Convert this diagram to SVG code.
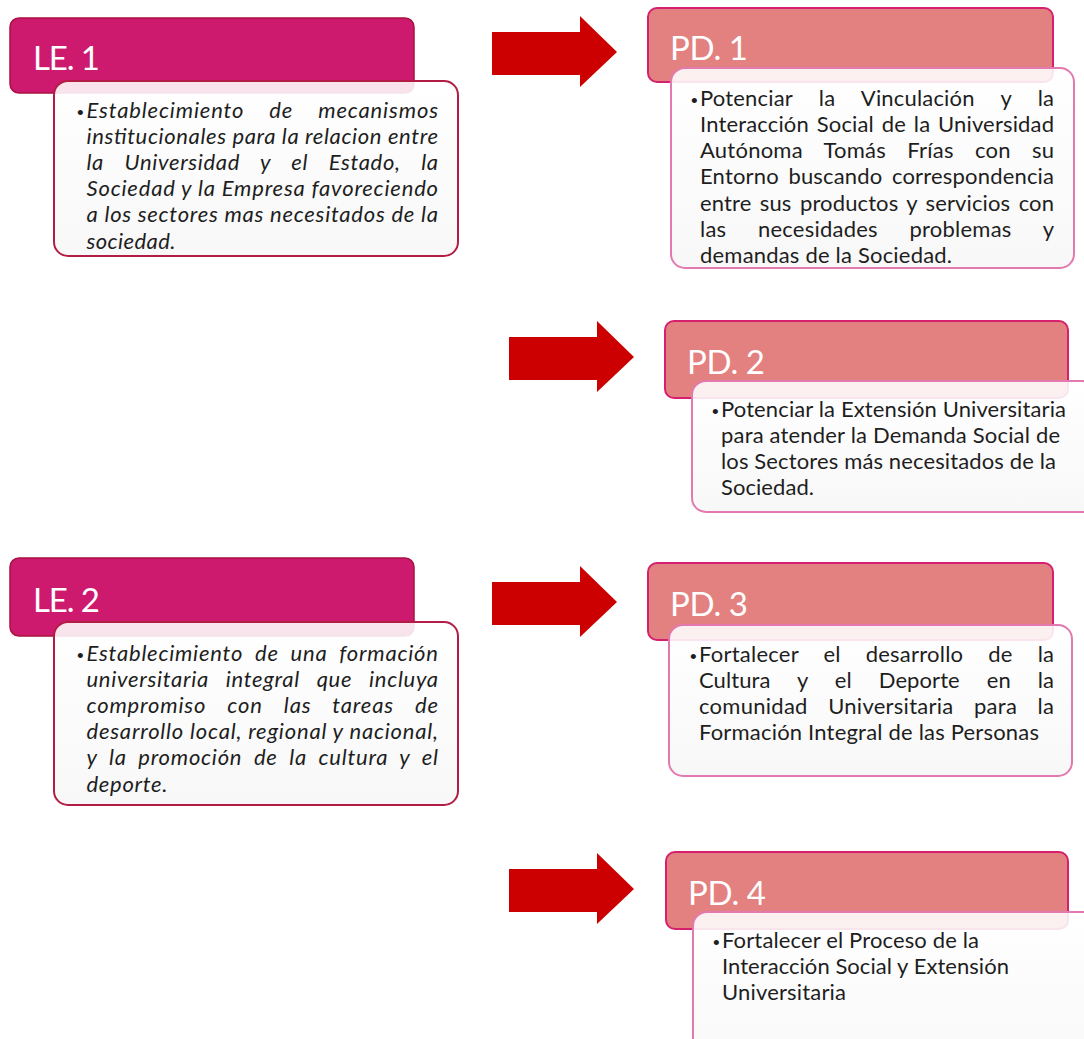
<svg xmlns="http://www.w3.org/2000/svg" width="1084" height="1039" viewBox="0 0 1084 1039">
<defs>
<linearGradient id="bodyg" x1="0" y1="0" x2="0" y2="1">
<stop offset="0" stop-color="#ffffff" stop-opacity="0.88"/>
<stop offset="1" stop-color="#f7f7f7" stop-opacity="0.92"/>
</linearGradient>
<style>
.leh{fill:#CD1A6E;stroke:#A8123F;stroke-width:1.5}
.leb{fill:url(#bodyg);stroke:#B31D45;stroke-width:2}
.pdh{fill:#E38080;stroke:#D4206E;stroke-width:2}
.pdb{fill:url(#bodyg);stroke:#E27AAF;stroke-width:2}
.arrow{fill:#CC0000}
.hd{font-family:Lato,"Liberation Sans",sans-serif;font-size:33px;fill:#ffffff}
.tx{font-family:Lato,"Liberation Sans",sans-serif;font-size:22px;fill:#1e1e1e}
.it{font-style:italic}
.bl{font-family:"Liberation Sans",sans-serif;font-size:19px;font-style:normal;fill:#1e1e1e}
</style>
</defs>
<rect width="1084" height="1039" fill="#ffffff"/>

<g id="connectors">
<path class="arrow" d="M492,32 L580,32 L580,16 L617,52 L580,87 L580,75 L492,75 Z"/>
<path class="arrow" d="M509,337 L597,337 L597,321 L634,357 L597,392 L597,380 L509,380 Z"/>
<path class="arrow" d="M492,582 L580,582 L580,566 L617,602 L580,637 L580,625 L492,625 Z"/>
<path class="arrow" d="M509,869 L597,869 L597,853 L634,889 L597,924 L597,912 L509,912 Z"/>
</g>

<g id="le1">
<rect class="leh" x="10" y="18" width="404" height="75" rx="9"/>
<text class="hd" x="33" y="69.5" textLength="67" lengthAdjust="spacing">LE. 1</text>
<rect class="leb" x="54" y="81" width="404" height="175" rx="14"/>
<text class="bl" x="77" y="119">•</text>
<g class="tx it">
<text x="86.5" y="117.5" textLength="351.5" lengthAdjust="spacing" word-spacing="19">Establecimiento de mecanismos</text>
<text x="86.5" y="143.7" textLength="351.5" lengthAdjust="spacing">institucionales para la relacion entre</text>
<text x="86.5" y="169.9" textLength="351.5" lengthAdjust="spacing" word-spacing="14.7">la Universidad y el Estado, la</text>
<text x="86.5" y="196.1" textLength="351.5" lengthAdjust="spacing">Sociedad y la Empresa favoreciendo</text>
<text x="86.5" y="222.3" textLength="351.5" lengthAdjust="spacing">a los sectores mas necesitados de la</text>
<text x="86.5" y="248.5" textLength="89" lengthAdjust="spacing">sociedad.</text>
</g>
</g>

<g id="pd1">
<rect class="pdh" x="648" y="8" width="405" height="74" rx="9"/>
<text class="hd" x="670" y="59.5" textLength="78" lengthAdjust="spacing">PD. 1</text>
<rect class="pdb" x="671" y="68" width="403" height="200" rx="14"/>
<text class="bl" x="691" y="107">•</text>
<g class="tx">
<text x="700" y="105.5" textLength="354" lengthAdjust="spacing" word-spacing="20.5">Potenciar la Vinculación y la</text>
<text x="700" y="131.8" textLength="354" lengthAdjust="spacing" word-spacing="2">Interacción Social de la Universidad</text>
<text x="700" y="158.1" textLength="354" lengthAdjust="spacing" word-spacing="15.4">Autónoma Tomás Frías con su</text>
<text x="700" y="184.4" textLength="354" lengthAdjust="spacing" word-spacing="3.7">Entorno buscando correspondencia</text>
<text x="700" y="210.7" textLength="354" lengthAdjust="spacing" word-spacing="2.7">entre sus productos y servicios con</text>
<text x="700" y="237" textLength="354" lengthAdjust="spacing" word-spacing="25.7">las necesidades problemas y</text>
<text x="700" y="263.3" textLength="252" lengthAdjust="spacing">demandas de la Sociedad.</text>
</g>
</g>

<g id="pd2">
<rect class="pdh" x="665" y="321" width="403" height="77" rx="9"/>
<text class="hd" x="687" y="373.5" textLength="78" lengthAdjust="spacing">PD. 2</text>
<rect class="pdb" x="692" y="381" width="404" height="131" rx="14"/>
<text class="bl" x="712" y="418">•</text>
<g class="tx">
<text x="721" y="416.5" textLength="345" lengthAdjust="spacing">Potenciar la Extensión Universitaria</text>
<text x="721" y="442.7" textLength="339" lengthAdjust="spacing">para atender la Demanda Social de</text>
<text x="721" y="468.9" textLength="335" lengthAdjust="spacing">los Sectores más necesitados de la</text>
<text x="721" y="495.1" textLength="93" lengthAdjust="spacing">Sociedad.</text>
</g>
</g>

<g id="le2">
<rect class="leh" x="10" y="558" width="404" height="78" rx="9"/>
<text class="hd" x="33" y="611.5" textLength="67" lengthAdjust="spacing">LE. 2</text>
<rect class="leb" x="54" y="622" width="404" height="183" rx="14"/>
<text class="bl" x="77" y="662">•</text>
<g class="tx it">
<text x="86.5" y="660.5" textLength="351.5" lengthAdjust="spacing" word-spacing="5.9">Establecimiento de una formación</text>
<text x="86.5" y="686.7" textLength="351.5" lengthAdjust="spacing" word-spacing="11">universitaria integral que incluya</text>
<text x="86.5" y="712.9" textLength="351.5" lengthAdjust="spacing" word-spacing="15.1">compromiso con las tareas de</text>
<text x="86.5" y="739.1" textLength="351.5" lengthAdjust="spacing">desarrollo local, regional y nacional,</text>
<text x="86.5" y="765.3" textLength="351.5" lengthAdjust="spacing" word-spacing="5.7">y la promoción de la cultura y el</text>
<text x="86.5" y="791.5" textLength="81" lengthAdjust="spacing">deporte.</text>
</g>
</g>

<g id="pd3">
<rect class="pdh" x="648" y="563" width="405" height="77" rx="9"/>
<text class="hd" x="670" y="615.5" textLength="78" lengthAdjust="spacing">PD. 3</text>
<rect class="pdb" x="669" y="625" width="403" height="151" rx="14"/>
<text class="bl" x="690" y="663">•</text>
<g class="tx">
<text x="699" y="661.5" textLength="355" lengthAdjust="spacing" word-spacing="19.1">Fortalecer el desarrollo de la</text>
<text x="699" y="687.7" textLength="355" lengthAdjust="spacing" word-spacing="21.3">Cultura y el Deporte en la</text>
<text x="699" y="713.9" textLength="355" lengthAdjust="spacing" word-spacing="14.6">comunidad Universitaria para la</text>
<text x="699" y="740.1" textLength="340" lengthAdjust="spacing">Formación Integral de las Personas</text>
</g>
</g>

<g id="pd4">
<rect class="pdh" x="666" y="852" width="402" height="77" rx="9"/>
<text class="hd" x="688" y="904.5" textLength="78" lengthAdjust="spacing">PD. 4</text>
<rect class="pdb" x="693" y="912" width="404" height="160" rx="14"/>
<text class="bl" x="713" y="949">•</text>
<g class="tx">
<text x="722" y="947.5" textLength="257" lengthAdjust="spacing">Fortalecer el Proceso de la</text>
<text x="722" y="973.7" textLength="287" lengthAdjust="spacing">Interacción Social y Extensión</text>
<text x="722" y="999.9" textLength="124" lengthAdjust="spacing">Universitaria</text>
</g>
</g>
</svg>
